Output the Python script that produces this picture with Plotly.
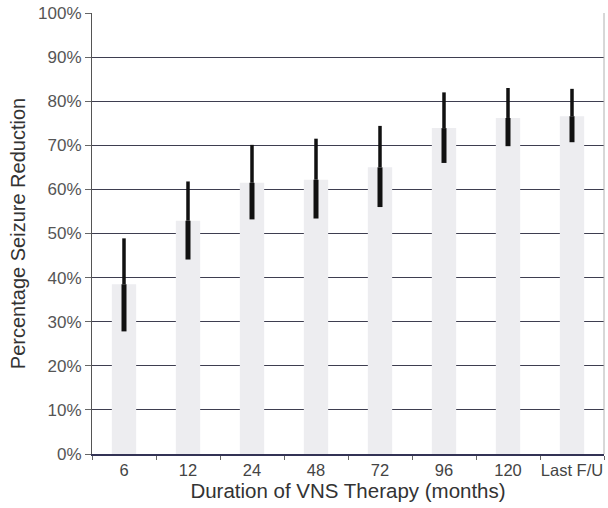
import plotly.graph_objects as go

categories = ["6", "12", "24", "48", "72", "96", "120", "Last F/U"]
mean_reduction = [38.5, 52.9, 61.5, 62.2, 65.0, 73.9, 76.2, 76.6]
upper_limit = [48.9, 61.8, 70.1, 71.5, 74.4, 82.0, 83.0, 82.8]
lower_limit = [27.8, 44.1, 53.2, 53.4, 56.0, 66.0, 69.8, 70.7]

err_plus = [u - m for u, m in zip(upper_limit, mean_reduction)]
err_minus = [m - l for m, l in zip(mean_reduction, lower_limit)]
zeros = [0] * len(categories)

fig = go.Figure()
fig.add_trace(go.Bar(
    x=categories, y=mean_reduction, width=0.38,
    marker=dict(color="#ededf0", line=dict(width=0)),
    hoverinfo="skip", showlegend=False,
))
fig.add_trace(go.Scatter(
    x=categories, y=mean_reduction, mode="markers",
    marker=dict(size=0.1, color="rgba(0,0,0,0)"),
    error_y=dict(type="data", symmetric=False, array=err_plus, arrayminus=zeros,
                 color="#111111", thickness=3.5, width=0),
    showlegend=False, hoverinfo="skip",
))
fig.add_trace(go.Scatter(
    x=categories, y=mean_reduction, mode="markers",
    marker=dict(size=0.1, color="rgba(0,0,0,0)"),
    error_y=dict(type="data", symmetric=False, array=zeros, arrayminus=err_minus,
                 color="#111111", thickness=5, width=0),
    showlegend=False, hoverinfo="skip",
))

font_family = "Liberation Sans, Arial, sans-serif"
fig.update_layout(
    width=608, height=508,
    margin=dict(l=92, r=4, t=13, b=54),
    paper_bgcolor="white", plot_bgcolor="white",
    font=dict(family=font_family, color="#444444", size=17),
    xaxis=dict(
        type="category", automargin=False, tickangle=0,
        title=dict(text="Duration of VNS Therapy (months)", font=dict(size=20.5, color="#333333"), standoff=3),
        showline=True, linecolor="#333355", linewidth=1.5,
        ticks="outside", ticklen=4, tickcolor="#666666", tickson="boundaries",
        tickfont=dict(size=16.5, color="#444444"),
        showgrid=False, zeroline=False,
    ),
    yaxis=dict(
        range=[0, 100], dtick=10, ticksuffix="%", automargin=False,
        title=dict(text="Percentage Seizure Reduction", font=dict(size=20, color="#333333"), standoff=7),
        showline=True, linecolor="#555555", linewidth=1,
        ticks="outside", ticklen=6, tickcolor="#666666",
        tickfont=dict(size=17, color="#555555"),
        showgrid=True, gridcolor="#3e3e50", gridwidth=1,
        zeroline=False,
    ),
    shapes=[dict(type="line", xref="paper", yref="paper", x0=1, x1=1, y0=0, y1=1,
                 line=dict(color="#b0b0b0", width=1))],
)

fig.write_html("out.html", config={"displayModeBar": False},
               post_script="document.body.style.margin='0';")
